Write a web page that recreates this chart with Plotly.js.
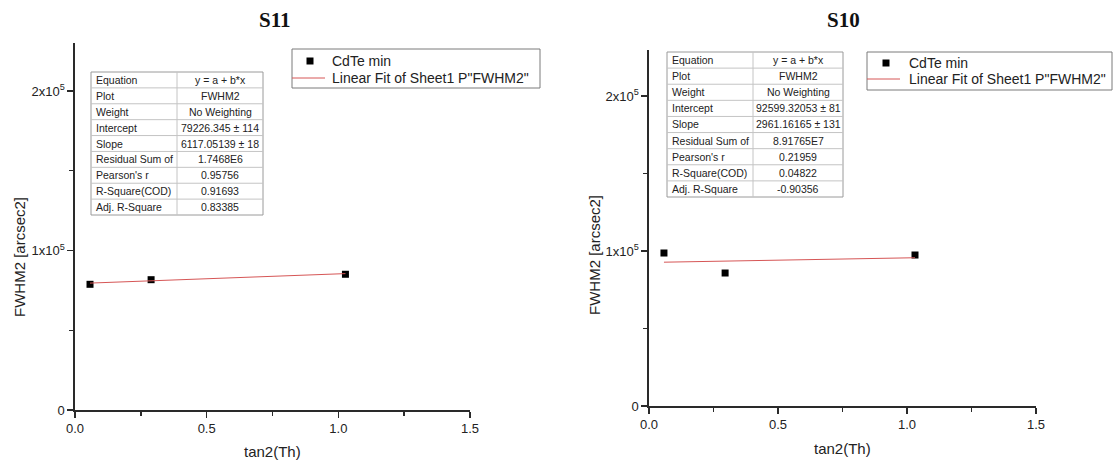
<!DOCTYPE html>
<html>
<head>
<meta charset="utf-8">
<script src="https://cdn.plot.ly/plotly-3.0.1.min.js"></script>
<style>html,body{margin:0;padding:0;background:#fff;}#chart{width:1113px;height:461px;}</style>
</head>
<body>
<div id="chart"></div>
<script>
// ---------- DATA ----------
var panelTitles = ['S11', 'S10'];
var seriesName = 'CdTe min';
var fitName = 'Linear Fit of Sheet1 P"FWHM2"';
var xTitle = 'tan2(Th)';
var yTitle = 'FWHM2 [arcsec2]';

var xLeft = [0.057, 0.289, 1.027];
var yLeft = [78800, 81700, 85100];
var fitXLeft = [0.057, 1.027];
var fitYLeft = [79575, 85508];

var xRight = [0.058, 0.295, 1.031];
var yRight = [98700, 85800, 97400];
var fitXRight = [0.058, 1.031];
var fitYRight = [92771, 95652];

var xTickVals = [0, 0.5, 1.0, 1.5];
var yTickVals = [0, 100000, 200000];
var yTickText = ['0', '1x10<sup>5</sup>', '2x10<sup>5</sup>'];

var tableLabels = ['Equation', 'Plot', 'Weight', 'Intercept', 'Slope', 'Residual Sum of', "Pearson's r", 'R-Square(COD)', 'Adj. R-Square'];
var tableLeftValues = ['y = a + b*x', 'FWHM2', 'No Weighting', '79226.345 ± 114', '6117.05139 ± 18', '1.7468E6', '0.95756', '0.91693', '0.83385'];
var tableRightValues = ['y = a + b*x', 'FWHM2', 'No Weighting', '92599.32053 ± 81', '2961.16165 ± 131', '8.91765E7', '0.21959', '0.04822', '-0.90356'];

// ---------- LAYOUT HELPERS ----------
var W = 1113, H = 461;
function px(x) { return x / W; }
function py(y) { return 1 - y / H; }
var FONT = 'Liberation Sans, Arial, sans-serif';
var fitColor = 'rgb(214,86,86)';
var axisColor = '#2a2a2a';

var traces = [
  {x: xLeft, y: yLeft, xaxis: 'x', yaxis: 'y', mode: 'markers', type: 'scatter', name: seriesName,
   marker: {symbol: 'square', size: 7, color: '#000'}, showlegend: false},
  {x: fitXLeft, y: fitYLeft, xaxis: 'x', yaxis: 'y', mode: 'lines', type: 'scatter', name: fitName,
   line: {color: fitColor, width: 1}, showlegend: false},
  {x: xRight, y: yRight, xaxis: 'x2', yaxis: 'y2', mode: 'markers', type: 'scatter', name: seriesName,
   marker: {symbol: 'square', size: 7, color: '#000'}, showlegend: false},
  {x: fitXRight, y: fitYRight, xaxis: 'x2', yaxis: 'y2', mode: 'lines', type: 'scatter', name: fitName,
   line: {color: fitColor, width: 1}, showlegend: false}
];

function xAxis(domain, anchor) {
  return {domain: domain, anchor: anchor, range: [0, 1.5], showline: true, linecolor: axisColor, linewidth: 1.6,
    ticks: 'outside', ticklen: 6, tickwidth: 1.6, tickcolor: axisColor, tickmode: 'array', tickvals: xTickVals,
    tickformat: '.1f', showgrid: false, zeroline: false, tickfont: {family: FONT, size: 13, color: '#222'},
    minor: {ticks: 'outside', ticklen: 4, tickwidth: 1.4, tickcolor: axisColor, dtick: 0.25, showgrid: false}};
}
function yAxis(domain, anchor) {
  return {domain: domain, anchor: anchor, range: [0, 230000], showline: true, linecolor: axisColor, linewidth: 1.6,
    ticks: 'outside', ticklen: 6, tickwidth: 1.6, tickcolor: axisColor, tickmode: 'array', tickvals: yTickVals,
    ticktext: yTickText, showgrid: false, zeroline: false, tickfont: {family: FONT, size: 13, color: '#222'},
    minor: {ticks: 'outside', ticklen: 4, tickwidth: 1.4, tickcolor: axisColor, dtick: 50000, showgrid: false}};
}

var shapes = [];
var annotations = [];

function addText(x, y, text, opts) {
  opts = opts || {};
  annotations.push({xref: 'paper', yref: 'paper', x: px(x), y: py(y), text: text, showarrow: false,
    xanchor: opts.xanchor || 'center', yanchor: opts.yanchor || 'middle', textangle: opts.angle || 0,
    font: {family: opts.family || FONT, size: opts.size || 14, color: opts.color || '#222'}});
}
function addLine(x0, y0, x1, y1, color, width) {
  shapes.push({type: 'line', xref: 'paper', yref: 'paper', x0: px(x0), y0: py(y0), x1: px(x1), y1: py(y1),
    line: {color: color, width: width}});
}
function addRect(x0, y0, x1, y1, color, width, fill) {
  shapes.push({type: 'rect', xref: 'paper', yref: 'paper', x0: px(x0), y0: py(y0), x1: px(x1), y1: py(y1),
    line: {color: color, width: width}, fillcolor: fill || 'rgba(0,0,0,0)'});
}

function addTable(left, mid, right, top, bottom, values) {
  var n = tableLabels.length;
  var rh = (bottom - top) / n;
  addRect(left, top, right, bottom, '#9a9a9a', 1, '#fff');
  for (var i = 1; i < n; i++) addLine(left, top + i * rh, right, top + i * rh, '#c4c4c4', 1);
  addLine(mid, top, mid, bottom, '#c4c4c4', 1);
  for (var j = 0; j < n; j++) {
    var cy = top + (j + 0.5) * rh;
    addText(left + 3, cy, tableLabels[j], {xanchor: 'left', size: 10.5});
    addText((mid + right) / 2, cy, values[j], {size: 10.5});
  }
}

function addLegend(left, top, right, bottom, row1, row2, markerX, lineX0, lineX1, textX) {
  addRect(left, top, right, bottom, '#7a7a7a', 1, '#fff');
  shapes.push({type: 'rect', xref: 'paper', yref: 'paper', x0: px(markerX - 3.5), x1: px(markerX + 3.5),
    y0: py(row1 + 3.5), y1: py(row1 - 3.5), line: {width: 0}, fillcolor: '#000'});
  addLine(lineX0, row2, lineX1, row2, fitColor, 1);
  addText(textX, row1, seriesName, {xanchor: 'left', size: 14});
  addText(textX, row2, fitName, {xanchor: 'left', size: 14});
}

// Left panel decorations
addTable(91, 177, 263, 72, 215, tableLeftValues);
addLegend(292, 49, 540, 88, 61, 78, 310, 292, 325, 330);
addText(275, 20, '<b>' + panelTitles[0] + '</b>', {family: 'Liberation Serif, Times New Roman, serif', size: 21, color: '#111'});
addText(19, 257, yTitle, {angle: -90, size: 15});
addText(272, 451, xTitle, {size: 15});

// Right panel decorations
addTable(667, 753, 843, 52, 197, tableRightValues);
addLegend(867, 52, 1112, 90, 63, 79, 886, 867, 900, 907);
addText(843, 20, '<b>' + panelTitles[1] + '</b>', {family: 'Liberation Serif, Times New Roman, serif', size: 21, color: '#111'});
addText(594, 255, yTitle, {angle: -90, size: 15});
addText(842, 448, xTitle, {size: 15});

var layout = {
  width: W, height: H,
  margin: {l: 0, r: 0, t: 0, b: 0},
  paper_bgcolor: '#fff', plot_bgcolor: 'rgba(0,0,0,0)',
  showlegend: false,
  xaxis: xAxis([px(75), px(470)], 'y'),
  yaxis: yAxis([py(410), py(410 - 2.3 * 159.5)], 'x'),
  xaxis2: xAxis([px(649), px(1036)], 'y2'),
  yaxis2: yAxis([py(406), py(406 - 2.3 * 155)], 'x2'),
  shapes: shapes,
  annotations: annotations
};

Plotly.newPlot('chart', traces, layout, {displayModeBar: false, staticPlot: true});
</script>
</body>
</html>
